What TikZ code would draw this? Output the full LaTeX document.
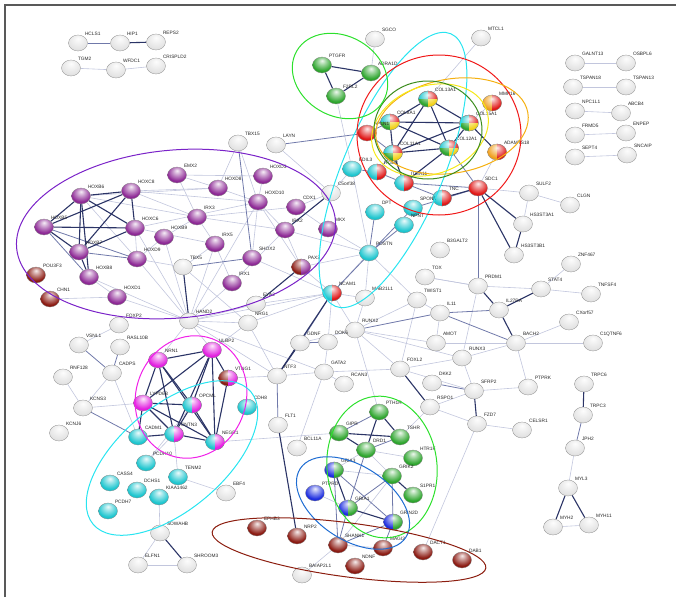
\documentclass[tikz,border=0pt]{standalone}
\usepackage{fontspec}
\setmainfont{Liberation Sans}
\usetikzlibrary{shapes.geometric}
\pgfdeclarelayer{background}
\pgfsetlayers{background,main}
% glossy sphere shading, coloured by the "ball color" key
\makeatletter
\pgfdeclareradialshading[tikz@ball]{gloss}{\pgfqpoint{0bp}{14bp}}{%
  color(0bp)=(tikz@ball!8!white);
  color(10bp)=(tikz@ball!45!white);
  color(26bp)=(tikz@ball);
  color(44bp)=(tikz@ball!88!black);
  color(62bp)=(tikz@ball!60!black)}
\makeatother
% edge colours
\definecolor{edgeS}{HTML}{2B3466}
\definecolor{edgeM}{HTML}{7079AA}
\definecolor{edgeW}{HTML}{C2C6DD}
% node colours
\definecolor{wht}{HTML}{E4E4E4}
\definecolor{pur}{HTML}{8E2A96}
\definecolor{grn}{HTML}{2FA62F}
\definecolor{cya}{HTML}{1FC6CF}
\definecolor{rd}{HTML}{E01818}
\definecolor{brn}{HTML}{8C1C14}
\definecolor{mag}{HTML}{E21FE0}
\definecolor{blu}{HTML}{1F2FE0}
\definecolor{org}{HTML}{F0A020}
\definecolor{yel}{HTML}{F2D21A}
% cluster outline colours
\definecolor{hPur}{HTML}{7A22C8}
\definecolor{hMag}{HTML}{F020E8}
\definecolor{hCya}{HTML}{28E4F0}
\definecolor{hRed}{HTML}{F01818}
\definecolor{hOrg}{HTML}{F5B010}
\definecolor{hYel}{HTML}{F5E818}
\definecolor{hDgr}{HTML}{3C8C1E}
\definecolor{hLgr}{HTML}{2CE02C}
\definecolor{hBlu}{HTML}{1E6CD2}
\definecolor{hBrn}{HTML}{8C1E10}
\tikzset{
  nd/.style={ellipse, minimum width=19pt, minimum height=16pt, inner sep=0pt,
             draw=black!45, line width=0.3pt},
  lb/.style={font=\fontsize{4.8}{5}\selectfont, text=black!85, inner sep=0.6pt},
  es/.style={draw=edgeS, line width=1.1pt},
  em/.style={draw=edgeM, line width=0.8pt},
  ew/.style={draw=edgeW, line width=0.6pt},
  hull/.style={line width=1pt},
}
% plain protein node
\newcommand\gn[3]{\node[nd, ball color=#3, shading=gloss, label={[lb]45:#1}] (#1) at (#2) {};}
% two-coloured node (left / right half)
\newcommand\gh[4]{%
  \node[nd, ball color=#3, shading=gloss, label={[lb]45:#1}] (#1) at (#2) {};
  \begin{scope}
    \clip (#2) ++(0,-9) rectangle ++(10,18);
    \shade[ball color=#4, shading=gloss] (#2) ellipse [x radius=9.5, y radius=8];
    \draw[black!45, line width=0.3pt] (#2) ellipse [x radius=9.5, y radius=8];
  \end{scope}}
% four-coloured node
\newcommand\gq[2]{%
  \node[nd, ball color=cya, shading=gloss, label={[lb]45:#1}] (#1) at (#2) {};
  \begin{scope}\clip (#2) rectangle ++(10,-9);
    \shade[ball color=rd, shading=gloss] (#2) ellipse [x radius=9.5, y radius=8];\end{scope}
  \begin{scope}\clip (#2) rectangle ++(-10,9);
    \shade[ball color=grn, shading=gloss] (#2) ellipse [x radius=9.5, y radius=8];\end{scope}
  \begin{scope}\clip (#2) rectangle ++(10,9);
    \shade[ball color=yel, shading=gloss] (#2) ellipse [x radius=9.5, y radius=8];\end{scope}
  \draw[black!45, line width=0.3pt] (#2) ellipse [x radius=9.5, y radius=8];}
\begin{document}
\begin{tikzpicture}[x=1pt, y=-1pt]
\useasboundingbox (0,0) rectangle (676,597);
\draw[black!65, line width=1.3pt] (5,597) -- (5,5) -- (676,5);

% ---------- nodes ----------
\gn{HCLS1}{78,43}{wht} \gn{HIP1}{120,43}{wht} \gn{REPS2}{156,42}{wht}
\gn{TGM2}{71,68}{wht} \gn{WFDC1}{116,70}{wht} \gn{CRISPLD2}{156,66}{wht}
\gn{SGCO}{375,39}{wht}
\gn{PTGFR}{322,65}{grn} \gn{ADRA1D}{371,73}{grn} \gn{F2RL2}{336,96}{grn}
\gn{MTCL1}{481,38}{wht}
\gn{GALNT13}{575,63}{wht} \gn{OSBPL6}{626,63}{wht}
\gn{TSPAN18}{573,87}{wht} \gn{TSPAN13}{626,87}{wht}
\gn{NPC1L1}{575,111}{wht} \gn{ABCB4}{621,113}{wht}
\gn{FRMD5}{575,135}{wht} \gn{ENPEP}{626,133}{wht}
\gn{SEPT4}{575,157}{wht} \gn{SNCAIP}{627,155}{wht}

\gh{MMP16}{492,103}{org}{rd}
\gq{COL15A1}{469,123}
\gq{COL13A1}{428,99}
\gq{COL8A1}{390,122}
\gn{APLN1}{367,133}{rd}
\gq{COL11A1}{393,153}
\gq{COL12A1}{449,148}
\gh{ADAMTS18}{497,152}{org}{rd}
\gh{ITGB8}{377,172}{cya}{rd}
\gn{EDIL3}{352,169}{cya}
\gh{ITGA11}{404,183}{cya}{rd}
\gh{TNC}{442,198}{cya}{rd}
\gn{SPON2}{413,208}{cya}
\gn{NPNT}{404,225}{cya}
\gn{DPT}{375,212}{cya}
\gn{POSTN}{369,253}{cya}
\gn{SDC1}{478,188}{rd}
\gn{SULF2}{529,193}{wht} \gn{CLGN}{570,205}{wht}
\gn{HS3ST3A1}{523,224}{wht} \gn{HS3ST3B1}{514,255}{wht}

\gn{TBX15}{238,143}{wht} \gn{LAYN}{276,145}{wht} \gn{C5orf38}{331,193}{wht}
\gn{EMX2}{177,175}{pur}
\gn{HOXB6}{81,196}{pur} \gn{HOXC8}{131,191}{pur}
\gn{HOXD8}{218,188}{pur} \gn{HOXD3}{263,176}{pur}
\gn{HOXB5}{44,227}{pur} \gn{HOXC6}{135,228}{pur}
\gn{IRX3}{197,217}{pur} \gn{HOXD10}{258,202}{pur} \gn{CDX1}{296,207}{pur}
\gn{HOXB9}{164,237}{pur} \gn{HOXB7}{79,252}{pur}
\gn{IRX5}{215,244}{pur} \gn{IRX2}{285,230}{pur} \gn{MKX}{328,229}{pur}
\gn{HOXD9}{137,259}{pur} \gn{TBX5}{183,267}{wht} \gn{SHOX2}{252,258}{pur}
\gh{PAX3}{301,267}{brn}{pur}
\gn{POU3F3}{36,275}{brn} \gn{HOXB8}{89,277}{pur} \gn{IRX1}{232,283}{pur}
\gn{CHN1}{50,299}{brn} \gn{HOXD1}{117,297}{pur}

\gn{B3GALT2}{440,250}{wht} \gn{TOX}{425,277}{wht}
\gn{EYA2}{256,304}{wht}
\gh{NCAM1}{332,293}{cya}{rd}
\gn{MAB21L1}{365,298}{wht} \gn{TWIST1}{417,300}{wht}
\gn{HAND2}{189,321}{wht} \gn{FOXP2}{119,325}{wht}
\gn{PRDM1}{478,286}{wht} \gn{ZNF467}{571,264}{wht}
\gn{STAT4}{541,289}{wht} \gn{TNFSF4}{591,294}{wht}
\gn{IL11}{440,313}{wht} \gn{IL27RA}{499,310}{wht}
\gn{CXorf57}{569,322}{wht} \gn{BACH2}{516,343}{wht} \gn{C1QTNF6}{593,343}{wht}
\gn{AMOT}{436,343}{wht} \gn{RUNX3}{462,358}{wht}
\gn{NRG1}{248,323}{wht} \gn{RUNX2}{355,330}{wht}
\gn{DOK6}{328,342}{wht} \gn{GDNF}{300,343}{wht}

\gn{VSNL1}{79,345}{wht} \gn{RASL10B}{120,347}{wht}
\gn{CADPS}{112,373}{wht} \gn{RNF128}{63,377}{wht}
\gn{KCNS3}{83,408}{wht} \gn{KCNJ6}{59,433}{wht}
\gn{NRN1}{158,360}{mag} \gn{ULBP2}{212,350}{mag}
\gn{LYPD6B}{143,403}{mag}
\gh{OPCML}{192,405}{cya}{mag}
\gh{CNTN3}{174,434}{cya}{mag}
\gh{NEGR1}{215,442}{cya}{mag}
\gh{VTNG1}{228,378}{brn}{mag}
\gn{CADM1}{138,437}{cya} \gn{CDH8}{247,407}{cya}
\gn{PCDH10}{146,463}{cya} \gn{CASS4}{110,483}{cya} \gn{TENM2}{178,477}{cya}
\gn{DCHS1}{137,490}{cya} \gn{KIAA1462}{159,497}{cya} \gn{PCDH7}{108,511}{cya}
\gn{SOWAHB}{160,533}{wht} \gn{ELFN1}{138,565}{wht} \gn{SHROOM3}{187,565}{wht}
\gn{EBF4}{226,493}{wht}

\gn{NTF3}{277,376}{wht} \gn{GATA2}{324,372}{wht} \gn{RCAN3}{344,384}{wht}
\gn{FOXL2}{400,369}{wht} \gn{DKK2}{432,383}{wht} \gn{RSPO1}{430,407}{wht}
\gn{SFRP2}{474,391}{wht} \gn{PTPRK}{528,387}{wht}
\gn{FZD7}{477,424}{wht} \gn{CELSR1}{522,430}{wht}
\gn{TRPC6}{584,384}{wht} \gn{TRPC3}{583,415}{wht} \gn{JPH2}{575,448}{wht}
\gn{MYL3}{568,488}{wht} \gn{MYH2}{553,527}{wht} \gn{MYH11}{589,525}{wht}
\gn{FLT1}{278,425}{wht} \gn{BCL11A}{297,448}{wht}

\gn{PTH1R}{379,412}{grn} \gn{GIPR}{339,433}{grn} \gn{TSHR}{400,437}{grn}
\gn{DRD1}{366,450}{grn} \gn{HTR1F}{413,458}{grn}
\gn{GRIK2}{392,476}{grn} \gn{S1PR1}{413,495}{grn}
\gh{GRIA3}{334,470}{blu}{grn}
\gn{PTPRD}{315,493}{blu}
\gh{GRIA1}{348,508}{blu}{grn}
\gh{GRIN2D}{393,522}{blu}{grn}
\gn{EPHB3}{257,528}{brn} \gn{NRP2}{297,536}{brn} \gn{SHANK1}{338,545}{brn}
\gn{MAGI2}{383,548}{brn} \gn{DACT1}{423,552}{brn} \gn{DAB1}{462,560}{brn}
\gn{NDNF}{355,566}{brn} \gn{BAIAP2L1}{302,575}{wht}

% ---------- interactions ----------
\begin{pgfonlayer}{background}
\foreach \a/\b in {TGM2/WFDC1, WFDC1/CRISPLD2, GALNT13/OSBPL6, TSPAN18/TSPAN13,
  NPC1L1/ABCB4, FRMD5/ENPEP, SEPT4/SNCAIP, SGCO/ADRA1D, F2RL2/EDIL3,
  MTCL1/COL13A1, MMP16/COL15A1, SDC1/ADAMTS18, SDC1/SULF2, SULF2/HS3ST3A1,
  SULF2/CLGN, PRDM1/STAT4, STAT4/ZNF467, STAT4/TNFSF4, PRDM1/RUNX3, PRDM1/TOX,
  BACH2/CXorf57, BACH2/C1QTNF6, BACH2/PTPRK, BACH2/RUNX3, BACH2/AMOT,
  SFRP2/PTPRK, SFRP2/RUNX3, FZD7/CELSR1, FZD7/DACT1, RSPO1/SFRP2, RSPO1/FZD7,
  JPH2/MYL3, MYH2/MYH11, TBX15/HOXD8, TBX15/HOXD10,
  EMX2/IRX3, EMX2/HOXD3, HOXC8/HOXD8, HOXB6/IRX3, HOXC8/IRX3, HOXC6/HOXD10,
  IRX3/IRX2, IRX3/CDX1, HOXD8/HOXD10, HOXD3/HOXD10, HOXD10/IRX2, HOXD10/SHOX2,
  HOXB9/HAND2, HOXD9/HAND2, HOXD1/HAND2, HOXB8/HAND2, HOXC6/HAND2, IRX5/HAND2,
  IRX1/HAND2, HOXD10/HAND2, IRX3/HOXB9, CHN1/HOXD1, HOXC6/HOXD9, HOXB8/HOXD1,
  HOXB9/HOXD9, IRX3/IRX5, IRX5/IRX1, IRX2/IRX1, HOXB6/HOXD9, HOXC8/HOXD10,
  C5orf38/EDIL3, C5orf38/CDX1, C5orf38/LAYN, CDX1/MKX, MKX/POSTN, IRX2/POSTN,
  PAX3/POSTN, SHOX2/NCAM1, PAX3/NCAM1, HOXD10/PAX3, IRX2/PAX3, TBX5/IRX5,
  TBX5/NRG1, EDIL3/POSTN, POSTN/NCAM1, POSTN/TWIST1, POSTN/MAB21L1,
  NCAM1/EYA2, NCAM1/HAND2, NCAM1/NRG1, MAB21L1/RUNX2, TWIST1/RUNX2,
  TWIST1/FOXL2, RUNX2/AMOT, RUNX2/RUNX3, RUNX2/PTH1R, RUNX2/GDNF, RUNX2/NCAM1,
  RUNX2/FOXL2, DOK6/GATA2, DOK6/NCAM1, HAND2/EYA2, HAND2/NRG1, HAND2/NTF3,
  HAND2/GATA2, NTF3/NRG1, NTF3/VTNG1, NTF3/GATA2, GATA2/BCL11A, GATA2/FOXL2,
  GATA2/RCAN3, FOXL2/SFRP2, FOXL2/RUNX3, NEGR1/GIPR, DRD1/GRIA3, DRD1/GRIK2,
  HTR1F/DRD1, GRIA3/GRIK2, GRIK2/SHANK1, PTPRD/GRIA1, SHANK1/MAGI2,
  SHANK1/BAIAP2L1, KCNS3/LYPD6B, CADPS/KCNS3, CADPS/CADM1, VSNL1/FOXP2,
  RNF128/KCNS3, CNTN3/PCDH10, OPCML/PCDH10, CNTN3/TENM2, TENM2/EBF4,
  KIAA1462/SOWAHB, SOWAHB/ELFN1, ELFN1/SHROOM3, NRN1/HAND2, ULBP2/NRG1,
  ULBP2/HAND2, TOX/PRDM1, HOXB6/HOXD8, HOXC6/IRX5, HOXD9/TBX5, EMX2/HOXD8,
  TWIST1/IL11, MAB21L1/NCAM1, AMOT/IL11, TSHR/RSPO1}
  \draw[ew] (\a) -- (\b);
\foreach \a/\b in {HCLS1/HIP1, LAYN/APLN1, TBX15/SHOX2, COL8A1/APLN1,
  APLN1/COL11A1, COL11A1/ITGB8, ITGB8/ITGA11, EDIL3/ITGB8, TNC/ITGA11,
  SDC1/COL12A1, SDC1/SPON2, SDC1/ITGA11, SDC1/PRDM1, NCAM1/SPON2, NCAM1/GDNF,
  DPT/POSTN, NPNT/POSTN, GDNF/DOK6, NTF3/FLT1, RUNX2/IL11, BACH2/IL11,
  IL27RA/IL11, TRPC3/JPH2, DKK2/SFRP2, HOXB5/HOXB8, HOXB7/HOXD9, HOXB5/HOXD9,
  CADPS/VSNL1, CADPS/RASL10B, KCNS3/CADM1, PTH1R/GIPR, TSHR/DRD1, DRD1/GRIA1,
  GRIK2/GRIA1, GRIK2/GRIN2D, GRIA3/SHANK1, GRIA1/SHANK1, GRIN2D/SHANK1,
  GRIN2D/MAGI2, GRIA3/GRIN2D, TBX5/SHOX2}
  \draw[em] (\a) -- (\b);
\foreach \a/\b in {HIP1/REPS2, PTGFR/ADRA1D, PTGFR/F2RL2, F2RL2/ADRA1D,
  COL13A1/COL8A1, COL13A1/COL11A1, COL13A1/COL12A1, COL13A1/COL15A1,
  COL8A1/COL15A1, COL8A1/COL11A1, COL8A1/COL12A1, COL11A1/COL12A1,
  COL11A1/COL15A1, COL15A1/COL12A1, COL15A1/ADAMTS18, ITGA11/COL11A1,
  ITGA11/COL12A1, SDC1/TNC, SDC1/HS3ST3A1, SDC1/HS3ST3B1, HS3ST3A1/HS3ST3B1,
  IL27RA/BACH2, IL27RA/STAT4, IL27RA/PRDM1, TRPC6/TRPC3, MYL3/MYH2, MYL3/MYH11,
  HOXB6/HOXC8, HOXB6/HOXB5, HOXB6/HOXB7, HOXB6/HOXC6, HOXB6/HOXB8,
  HOXC8/HOXC6, HOXC8/HOXB5, HOXC8/HOXB7, HOXB5/HOXC6, HOXB5/HOXB7,
  HOXC6/HOXB7, HOXB7/HOXB8, TBX5/HAND2, PAX3/EYA2, C5orf38/IRX2,
  NCAM1/NTF3, GDNF/NTF3, FLT1/NRP2, FOXL2/RSPO1, SFRP2/FZD7,
  PTH1R/TSHR, PTH1R/DRD1, GIPR/TSHR, GIPR/DRD1, GRIK2/S1PR1, GRIA3/GRIA1,
  GRIA1/GRIN2D, NRN1/ULBP2, NRN1/LYPD6B, NRN1/OPCML, NRN1/CNTN3, NRN1/NEGR1,
  ULBP2/LYPD6B, ULBP2/OPCML, ULBP2/CNTN3, ULBP2/NEGR1, ULBP2/VTNG1,
  LYPD6B/OPCML, LYPD6B/CNTN3, LYPD6B/NEGR1, OPCML/CNTN3, OPCML/NEGR1,
  CNTN3/NEGR1, CADM1/CNTN3, VTNG1/NEGR1, CADM1/LYPD6B, SOWAHB/SHROOM3}
  \draw[es] (\a) -- (\b);
\end{pgfonlayer}

% ---------- cluster outlines ----------
\draw[hull, hPur, rotate around={5:(176,234)}] (176,234) ellipse [x radius=160, y radius=84];
\draw[hull, hMag, rotate around={-20:(191,397)}] (191,397) ellipse [x radius=55, y radius=62];
\draw[hull, hCya, rotate around={40:(172,458)}] (172,458) ellipse [x radius=103, y radius=52];
\draw[hull, hCya, rotate around={67:(393,170)}] (393,170) ellipse [x radius=148, y radius=50];
\draw[hull, hRed] (439,135) ellipse [x radius=82, y radius=80];
\draw[hull, hOrg, rotate around={10:(452,126)}] (452,126) ellipse [x radius=77, y radius=47];
\draw[hull, hYel, rotate around={20:(430,130)}] (430,130) ellipse [x radius=60, y radius=44];
\draw[hull, hDgr] (428,130) ellipse [x radius=54, y radius=49];
\draw[hull, hLgr, rotate around={-30:(340,76)}] (340,76) ellipse [x radius=50, y radius=40];
\draw[hull, hLgr, rotate around={6:(382,467)}] (382,467) ellipse [x radius=55, y radius=71];
\draw[hull, hBlu, rotate around={-33:(353,503)}] (353,503) ellipse [x radius=63, y radius=37];
\draw[hull, hBrn, rotate around={-7.5:(349,550)}] (349,550) ellipse [x radius=138, y radius=27];
\end{tikzpicture}
\end{document}
